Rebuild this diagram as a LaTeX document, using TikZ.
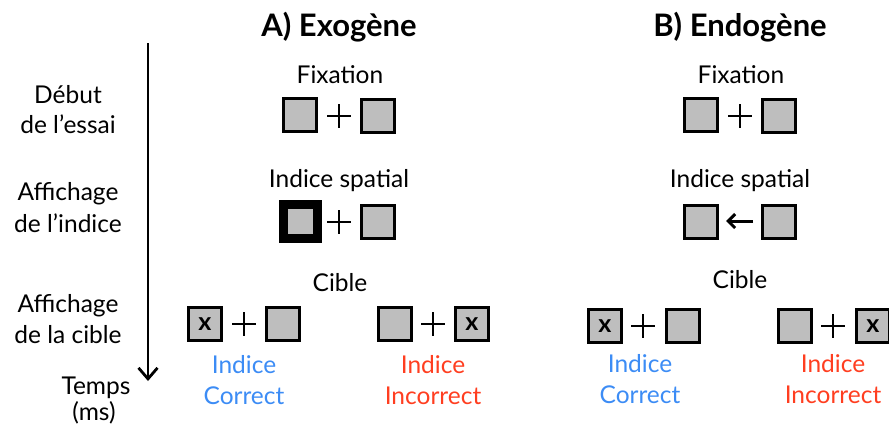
\documentclass[tikz,border=0pt]{standalone}
\usepackage{fontspec}
\setmainfont{Lato}
\newfontfamily\blackx{Lato Black}
\usetikzlibrary{arrows.meta}
\definecolor{sqgray}{RGB}{190,190,190}
\definecolor{cblue}{RGB}{60,140,245}
\definecolor{cred}{RGB}{255,62,32}
\begin{document}
\begin{tikzpicture}[x=1pt,y=-1pt,
  sq/.style={draw=black,fill=sqgray,line width=2.2pt,minimum size=33pt,inner sep=0pt},
  cuesq/.style={draw=black,fill=sqgray,line width=9pt,minimum size=34pt,inner sep=0pt},
  tsq/.style={sq,font=\fontsize{25}{25}\selectfont\bfseries},
  lbl/.style={font=\fontsize{24.5}{28}\selectfont,anchor=base,inner sep=0pt},
  ttl/.style={font=\fontsize{31}{36}\selectfont\bfseries,anchor=base,inner sep=0pt},
  plus/.pic={\draw[line width=1.5pt] (-12,0)--(12,0) (0,-12)--(0,12);}
]
\useasboundingbox (0,0) rectangle (889,432);

% titles
\node[ttl] (tA) at (339,36) {A) Exogène};
\node[ttl] (tB) at (740,36) {B) Endogène};

% left labels
\node[lbl] (l1a) at (68,103) {Début};
\node[lbl] (l1b) at (68,133) {de l’essai};
\node[lbl] (l2a) at (68,200) {Affichage};
\node[lbl] (l2b) at (68,232) {de l’indice};
\node[lbl] (l3a) at (68,312) {Affichage};
\node[lbl] (l3b) at (68,343) {de la cible};
\node[lbl] (l4a) at (96,394) {Temps};
\node[lbl] (l4b) at (94,420) {(ms)};

% timeline
\coordinate (ts) at (148,43);
\coordinate (te) at (148,381);
\draw[line width=2.8pt,-{Straight Barb[length=11pt,width=19pt]}] (ts) -- (te);

% ---- A) Exogene
\node[lbl] (fixA) at (340,83) {Fixation};
\node[sq] (fA1) at (300,115) {};
\pic at (339,116) {plus};
\node[sq] (fA2) at (378,116) {};

\node[lbl] (indA) at (339,187) {Indice spatial};
\node[cuesq] (iA1) at (300,221) {};
\pic at (339,222) {plus};
\node[sq] (iA2) at (378,222) {};

\node[lbl] (cibA) at (340,291) {Cible};
\node[tsq] (cA1) at (205,324) {x};
\pic at (244,324) {plus};
\node[sq] (cA2) at (283,324) {};
\node[lbl,text=cblue] (cAt1) at (244,373) {Indice};
\node[lbl,text=cblue] (cAt2) at (244,404) {Correct};

\node[sq] (xA1) at (395,324) {};
\pic at (433,324) {plus};
\node[tsq] (xA2) at (472,324) {x};
\node[lbl,text=cred] (xAt1) at (433,373) {Indice};
\node[lbl,text=cred] (xAt2) at (433,404) {Incorrect};

% ---- B) Endogene
\node[lbl] (fixB) at (741,83) {Fixation};
\node[sq] (fB1) at (701,115) {};
\pic at (740,116) {plus};
\node[sq] (fB2) at (779,116) {};

\node[lbl] (indB) at (740,187) {Indice spatial};
\node[sq] (iB1) at (701,222) {};
\node[sq] (iB2) at (779,222) {};
\coordinate (arS) at (753,221);
\coordinate (arE) at (726,221);
\draw[line width=3pt,-{Straight Barb[length=7pt,width=14pt]}] (arS) -- (arE);

\node[lbl] (cibB) at (740,288) {Cible};
\node[tsq] (cB1) at (605,326) {x};
\pic at (643,326) {plus};
\node[sq] (cB2) at (683,326) {};
\node[lbl,text=cblue] (cBt1) at (640,372) {Indice};
\node[lbl,text=cblue] (cBt2) at (640,403) {Correct};

\node[sq] (xB1) at (795,326) {};
\pic at (833,326) {plus};
\node[tsq] (xB2) at (873,326) {x};
\node[lbl,text=cred] (xBt1) at (833,372) {Indice};
\node[lbl,text=cred] (xBt2) at (833,403) {Incorrect};
\end{tikzpicture}
\end{document}
